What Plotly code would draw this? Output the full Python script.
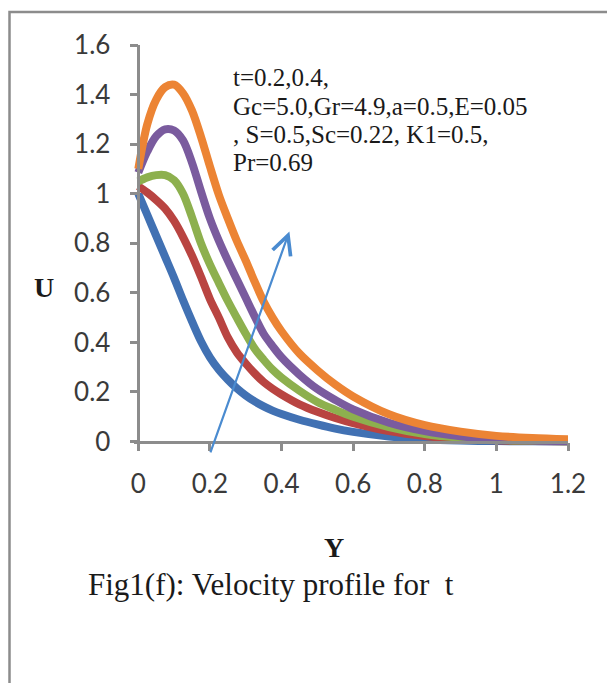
import plotly.graph_objects as go

# ---------------- data ----------------
Y_vals = [0, 0.025, 0.05, 0.075, 0.1, 0.125, 0.15, 0.175, 0.2, 0.225, 0.25, 0.275,
          0.3, 0.325, 0.35, 0.375, 0.4, 0.45, 0.5, 0.55, 0.6, 0.7, 0.8, 0.9, 1.0, 1.1, 1.2]

u_blue = [1.0, 0.915, 0.83, 0.745, 0.66, 0.57, 0.485, 0.405, 0.34, 0.29, 0.25, 0.215,
          0.186, 0.162, 0.142, 0.125, 0.111, 0.088, 0.069, 0.052, 0.039, 0.02, 0.009,
          0.004, 0.002, 0.001, 0.0]
u_red = [1.03, 1.005, 0.975, 0.94, 0.89, 0.825, 0.75, 0.665, 0.575, 0.5, 0.42, 0.36,
         0.315, 0.275, 0.24, 0.213, 0.19, 0.15, 0.12, 0.095, 0.074, 0.042, 0.022,
         0.011, 0.005, 0.002, 0.001]
u_green = [1.05, 1.066, 1.075, 1.075, 1.055, 1.0, 0.905, 0.8, 0.715, 0.64, 0.567, 0.5,
           0.435, 0.375, 0.33, 0.29, 0.258, 0.205, 0.16, 0.128, 0.1, 0.058, 0.03,
           0.015, 0.007, 0.003, 0.001]
u_purple = [1.085, 1.17, 1.232, 1.26, 1.255, 1.215, 1.125, 1.01, 0.9, 0.81, 0.73, 0.655,
            0.58, 0.505, 0.435, 0.385, 0.34, 0.27, 0.212, 0.168, 0.13, 0.076, 0.042,
            0.021, 0.01, 0.004, 0.002]
u_orange = [1.1, 1.28, 1.38, 1.43, 1.44, 1.405, 1.335, 1.23, 1.11, 0.995, 0.9, 0.81,
            0.73, 0.645, 0.565, 0.5, 0.445, 0.355, 0.288, 0.23, 0.182, 0.11, 0.066,
            0.04, 0.023, 0.014, 0.009]

series = [u_blue, u_red, u_green, u_purple, u_orange]
colors = ["#4171B3", "#B94441", "#8DB04E", "#7A5B9E", "#EC8434"]

x_ticks = [0, 0.2, 0.4, 0.6, 0.8, 1, 1.2]
x_ticktext = ["0", "0.2", "0.4", "0.6", "0.8", "1", "1.2"]
y_ticks = [0, 0.2, 0.4, 0.6, 0.8, 1, 1.2, 1.4, 1.6]
y_ticktext = ["0", "0.2", "0.4", "0.6", "0.8", "1", "1.2", "1.4", "1.6"]

arrow_tail = (0.2, -0.05)
arrow_head = (0.422, 0.848)

param_lines = ["t=0.2,0.4,",
               "Gc=5.0,Gr=4.9,a=0.5,E=0.05",
               ", S=0.5,Sc=0.22, K1=0.5,",
               "Pr=0.69"]
caption = "Fig1(f): Velocity profile for\u00a0\u00a0t"

# ---------------- layout geometry ----------------
W, H = 607, 683
ML, MR, MT, MB = 134, 39, 45, 234
XR = [-0.012, 1.2]
YR = [-0.03, 1.6]
PW, PH = W - ML - MR, H - MT - MB


def px(xp):
    return (xp - ML) / PW


def py(yp):
    return 1 - (yp - MT) / PH


fig = go.Figure()
for s, c in zip(series, colors):
    fig.add_trace(go.Scatter(x=Y_vals, y=s, mode="lines",
                             line=dict(color=c, width=8, shape="spline", smoothing=0.9),
                             showlegend=False, hoverinfo="skip"))

axis_col = "#8C8C8C"
tick_font = dict(family="Lato, Carlito, sans-serif", size=26, color="#3a3a3a")

fig.update_layout(
    width=W, height=H,
    margin=dict(l=ML, r=MR, t=MT, b=MB, pad=0),
    paper_bgcolor="white", plot_bgcolor="white",
    xaxis=dict(range=XR, tickvals=x_ticks, ticktext=x_ticktext, showgrid=False,
               zeroline=False, showline=True, linecolor=axis_col, linewidth=2.5,
               ticks="outside", ticklen=8, tickwidth=2.5, tickcolor=axis_col,
               tickfont=tick_font, anchor="free",
               position=(0 - YR[0]) / (YR[1] - YR[0]), ticklabelstandoff=10),
    yaxis=dict(range=YR, tickvals=y_ticks, ticktext=y_ticktext, showgrid=False,
               zeroline=False, showline=True, linecolor=axis_col, linewidth=2.5,
               ticks="outside", ticklen=8, tickwidth=2.5, tickcolor=axis_col,
               tickfont=tick_font, anchor="free",
               position=(0 - XR[0]) / (XR[1] - XR[0]), ticklabelstandoff=14),
)

# outer frame (extends beyond right & bottom edges)
fig.add_shape(type="rect", xref="paper", yref="paper",
              x0=px(9.5), x1=px(640), y0=py(720), y1=py(12),
              line=dict(color="#8C8C8C", width=2.5), layer="below")

# arrow
fig.add_annotation(x=arrow_head[0], y=arrow_head[1], ax=arrow_tail[0], ay=arrow_tail[1],
                   xref="x", yref="y", axref="x", ayref="y", text="",
                   showarrow=True, arrowhead=5, arrowsize=1.7, arrowwidth=2.2,
                   arrowcolor="#4A8BD0")

serif = "Liberation Serif, Times New Roman, serif"
line_y = [78, 106, 134, 162]
for t, yy in zip(param_lines, line_y):
    fig.add_annotation(text=t, xref="paper", yref="paper", x=px(231), y=py(yy),
                       xanchor="left", yanchor="middle", showarrow=False,
                       font=dict(family=serif, size=25, color="#1a1a1a"))

fig.add_annotation(text="<b>U</b>", xref="paper", yref="paper", x=px(44), y=py(287),
                   xanchor="center", yanchor="middle", showarrow=False,
                   font=dict(family=serif, size=28, color="#1a1a1a"))
fig.add_annotation(text="<b>Y</b>", xref="paper", yref="paper", x=px(334), y=py(547),
                   xanchor="center", yanchor="middle", showarrow=False,
                   font=dict(family=serif, size=28, color="#1a1a1a"))
fig.add_annotation(text=caption, xref="paper", yref="paper", x=px(86), y=py(584),
                   xanchor="left", yanchor="middle", showarrow=False,
                   font=dict(family=serif, size=31, color="#1a1a1a"))

fig.write_html("out.html")
